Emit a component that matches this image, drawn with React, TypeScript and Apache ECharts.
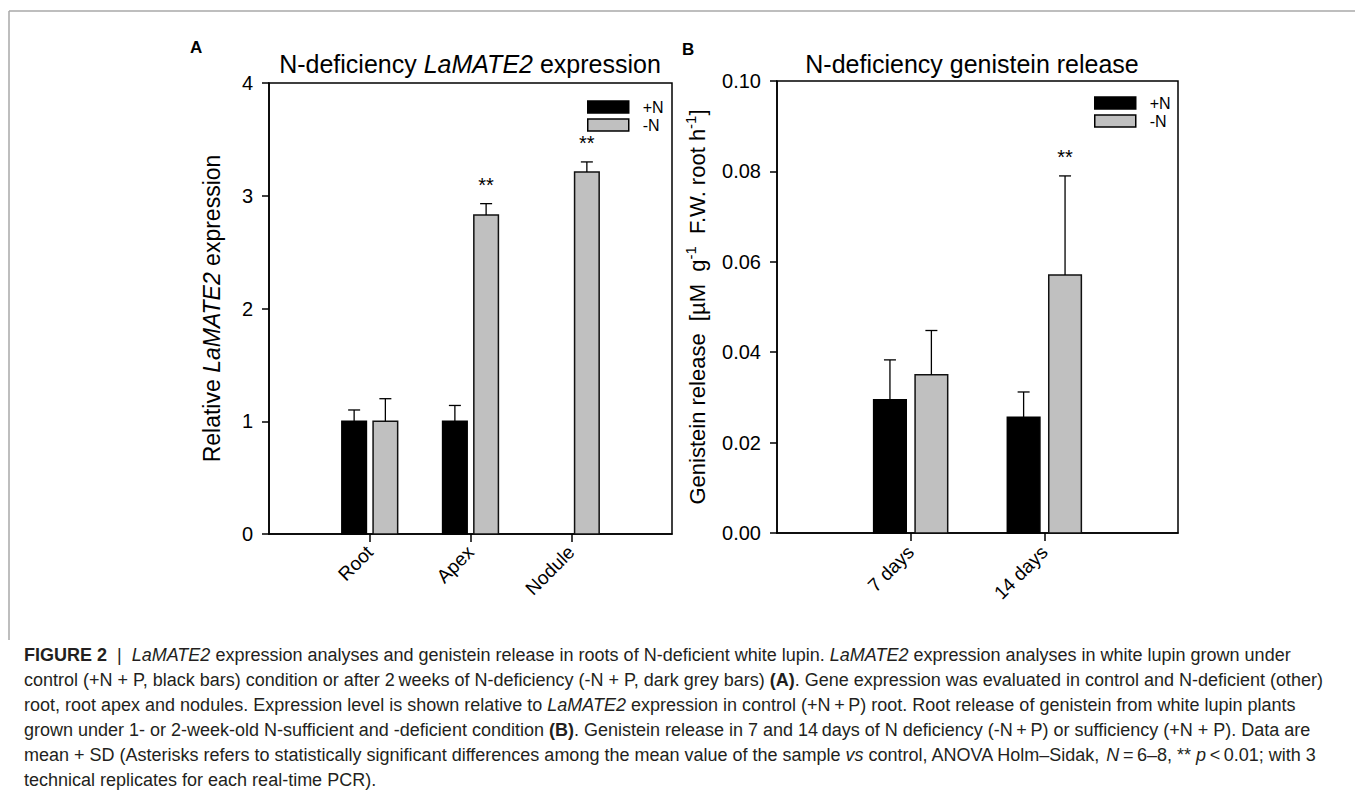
import React, { useEffect, useRef } from "react";
import * as echarts from "echarts";

// ---------- data ----------
const catsA = ["Root", "Apex", "Nodule"];
const plusNA = [1.0, 1.0, null];
const plusNASd = [0.1, 0.14, null];
const minusNA = [1.0, 2.83, 3.21];
const minusNASd = [0.2, 0.1, 0.09];
const sigMinusA = ["", "**", "**"];

const catsB = ["7 days", "14 days"];
const plusNB = [0.0295, 0.0256];
const plusNBSd = [0.0088, 0.0056];
const minusNB = [0.035, 0.0571];
const minusNBSd = [0.0098, 0.0219];
const sigMinusB = ["", "**"];

const yTicksA = [0, 1, 2, 3, 4];
const yTicksB = [0, 0.02, 0.04, 0.06, 0.08, 0.1];

const FONT = "'Liberation Sans', Arial, Helvetica, sans-serif";

const captionLines: string[] = [
  "{b|FIGURE 2}  |  {i|LaMATE2} expression analyses and genistein release in roots of N-deficient white lupin. {i|LaMATE2} expression analyses in white lupin grown under",
  "control (+N + P, black bars) condition or after 2\u2009weeks of N-deficiency (-N + P, dark grey bars) {b|(A)}. Gene expression was evaluated in control and N-deficient (other)",
  "root, root apex and nodules. Expression level is shown relative to {i|LaMATE2} expression in control (+N\u2009+\u2009P) root. Root release of genistein from white lupin plants",
  "grown under 1- or 2-week-old N-sufficient and -deficient condition {b|(B)}. Genistein release in 7 and 14\u2009days of N deficiency (-N\u2009+\u2009P) or sufficiency (+N + P). Data are",
  "mean + SD (Asterisks refers to statistically significant differences among the mean value of the sample {i|vs} control, ANOVA Holm\u2013Sidak, {i|N}\u2009=\u20096\u20138, ** {i|p}\u2009<\u20090.01; with 3",
  "technical replicates for each real-time PCR).",
];

const HALF_OFF = 0.155;
const HALF_W = 0.122;

function makeRender(offset: number, fill: string, stroke: string, sds: (number | null)[], sigs: string[]) {
  return (params: any, api: any) => {
    const idx = api.value(3);
    const cx = api.value(0) + offset;
    const v = api.value(1);
    const sd = sds[idx] as number;
    const p0 = api.coord([cx - HALF_W, v]);
    const p1 = api.coord([cx + HALF_W, 0]);
    const top = api.coord([cx, v + sd]);
    const children: any[] = [
      {
        type: "rect",
        shape: { x: p0[0], y: p0[1], width: p1[0] - p0[0], height: p1[1] - p0[1] },
        style: { fill, stroke, lineWidth: 1.5 },
      },
      {
        type: "line",
        shape: { x1: top[0], y1: p0[1], x2: top[0], y2: top[1] },
        style: { stroke: "#000", lineWidth: 1.3 },
      },
      {
        type: "line",
        shape: { x1: top[0] - 6, y1: top[1], x2: top[0] + 6, y2: top[1] },
        style: { stroke: "#000", lineWidth: 1.3 },
      },
    ];
    const s = sigs[idx];
    if (s) {
      children.push({
        type: "text",
        x: top[0],
        y: top[1] - 19,
        style: { text: s, fill: "#000", font: `20px ${FONT}`, align: "center", verticalAlign: "middle" },
      });
    }
    return { type: "group", children };
  };
}

function toData(vals: (number | null)[]) {
  const out: number[][] = [];
  vals.forEach((v, i) => {
    if (v !== null) out.push([i + 1, v, 0, i]);
  });
  return out;
}

export default function App() {
  const ref = useRef<HTMLDivElement>(null);
  useEffect(() => {
    if (!ref.current) return;
    const chart = echarts.init(ref.current, undefined, { renderer: "svg" });
    const axisLine = { show: true, lineStyle: { color: "#000", width: 1.5 } };
    const tickStyle = { color: "#000", width: 1.5 };
    const gridA = { left: 269, top: 83, width: 403, height: 451 };
    const gridB = { left: 777, top: 81, width: 401, height: 452 };
    const legendData = [
      { name: "+N", itemStyle: { color: "#000", borderColor: "#000", borderWidth: 1.5 } },
      { name: "-N", itemStyle: { color: "#c0c0c0", borderColor: "#000", borderWidth: 1.5 } },
    ];

    const option: any = {
      animation: false,
      backgroundColor: "#fff",
      textStyle: { fontFamily: FONT },
      grid: [
        { ...gridA, show: true, borderColor: "#000", borderWidth: 1.5, containLabel: false },
        { ...gridB, show: true, borderColor: "#000", borderWidth: 1.5, containLabel: false },
      ],
      xAxis: [
        {
          gridIndex: 0, type: "value", min: 0, max: 4, interval: 1,
          axisLine,
          axisTick: { show: true, customValues: [1, 2, 3], length: 8, lineStyle: tickStyle },
          axisLabel: {
            customValues: [1, 2, 3], formatter: (v: number) => catsA[v - 1] ?? "",
            rotate: 45, fontSize: 19, margin: 15, color: "#000", fontFamily: FONT,
          },
          splitLine: { show: false },
        },
        {
          gridIndex: 1, type: "value", min: 0, max: 3, interval: 1,
          axisLine,
          axisTick: { show: true, customValues: [1, 2], length: 8, lineStyle: tickStyle },
          axisLabel: {
            customValues: [1, 2], formatter: (v: number) => catsB[v - 1] ?? "",
            rotate: 45, fontSize: 19, margin: 16, color: "#000", fontFamily: FONT,
          },
          splitLine: { show: false },
        },
      ],
      yAxis: [
        {
          gridIndex: 0, type: "value", min: yTicksA[0], max: yTicksA[yTicksA.length - 1], interval: 1,
          axisLine,
          axisTick: { show: true, length: 7, lineStyle: tickStyle },
          axisLabel: { fontSize: 20, margin: 16, color: "#000", fontFamily: FONT },
          splitLine: { show: false },
          name: "Relative {i|LaMATE2} expression",
          nameLocation: "middle",
          nameGap: 46,
          nameTextStyle: {
            fontSize: 23, color: "#000", fontFamily: FONT,
            rich: { i: { fontSize: 23, fontStyle: "italic", color: "#000", fontFamily: FONT } },
          },
        },
        {
          gridIndex: 1, type: "value", min: yTicksB[0], max: yTicksB[yTicksB.length - 1], interval: 0.02,
          axisLine,
          axisTick: { show: true, length: 7, lineStyle: tickStyle },
          axisLabel: { fontSize: 20, margin: 16, color: "#000", fontFamily: FONT, formatter: (v: number) => v.toFixed(2) },
          splitLine: { show: false },
          name: "Genistein release  [\u00b5M  g{s|-1}  F.W. root h{s|-1}]",
          nameLocation: "middle",
          nameGap: 66,
          nameTextStyle: {
            fontSize: 22, color: "#000", fontFamily: FONT, lineHeight: 28,
            rich: { s: { fontSize: 15, color: "#000", fontFamily: FONT, verticalAlign: "top", lineHeight: 15 } },
          },
        },
      ],
      legend: [
        {
          orient: "vertical", left: 587, top: 99, padding: 0, itemWidth: 41, itemHeight: 12, itemGap: 2,
          icon: "rect", selectedMode: false,
          textStyle: { fontSize: 16, color: "#000", fontFamily: FONT, padding: [0, 0, 0, 9] },
          data: legendData,
        },
        {
          orient: "vertical", left: 1094, top: 95, padding: 0, itemWidth: 41, itemHeight: 12, itemGap: 2,
          icon: "rect", selectedMode: false,
          textStyle: { fontSize: 16, color: "#000", fontFamily: FONT, padding: [0, 0, 0, 9] },
          data: legendData,
        },
      ],
      series: [
        {
          type: "custom", name: "+N", xAxisIndex: 0, yAxisIndex: 0,
          itemStyle: { color: "#000" },
          renderItem: makeRender(-HALF_OFF, "#000", "#000", plusNASd, ["", "", ""]),
          data: toData(plusNA), encode: { x: 0, y: 1 },
        },
        {
          type: "custom", name: "-N", xAxisIndex: 0, yAxisIndex: 0,
          itemStyle: { color: "#c0c0c0" },
          renderItem: makeRender(HALF_OFF, "#c0c0c0", "#111", minusNASd, sigMinusA),
          data: toData(minusNA), encode: { x: 0, y: 1 },
        },
        {
          type: "custom", name: "+N", xAxisIndex: 1, yAxisIndex: 1,
          itemStyle: { color: "#000" },
          renderItem: makeRender(-HALF_OFF, "#000", "#000", plusNBSd, ["", ""]),
          data: toData(plusNB), encode: { x: 0, y: 1 },
        },
        {
          type: "custom", name: "-N", xAxisIndex: 1, yAxisIndex: 1,
          itemStyle: { color: "#c0c0c0" },
          renderItem: makeRender(HALF_OFF, "#c0c0c0", "#111", minusNBSd, sigMinusB),
          data: toData(minusNB), encode: { x: 0, y: 1 },
        },
      ],
      graphic: [
        { type: "line", shape: { x1: 9, y1: 11, x2: 1355, y2: 11 }, style: { stroke: "#a8a8a8", lineWidth: 1.5 } },
        { type: "line", shape: { x1: 9, y1: 11, x2: 9, y2: 640 }, style: { stroke: "#a8a8a8", lineWidth: 1.5 } },
        {
          type: "text", x: 190, y: 47,
          style: { text: "A", font: `bold 17px ${FONT}`, fill: "#000", verticalAlign: "middle" },
        },
        {
          type: "text", x: 682, y: 49,
          style: { text: "B", font: `bold 17px ${FONT}`, fill: "#000", verticalAlign: "middle" },
        },
        {
          type: "text", x: 470, y: 64,
          style: {
            text: "N-deficiency {i|LaMATE2} expression",
            font: `25px ${FONT}`, fill: "#000", align: "center", verticalAlign: "middle",
            rich: { i: { fontStyle: "italic", fontSize: 25, fontFamily: FONT, fill: "#000" } },
          },
        },
        {
          type: "text", x: 972, y: 64,
          style: { text: "N-deficiency genistein release", font: `25px ${FONT}`, fill: "#000", align: "center", verticalAlign: "middle" },
        },
        ...captionLines.map((t, i) => ({
          type: "text", x: 24, y: 655 + i * 25,
          style: {
            text: t, font: `18px ${FONT}`, fill: "#231f20", verticalAlign: "middle",
            rich: {
              b: { fontWeight: "bold", fontSize: 18, fontFamily: FONT, fill: "#231f20" },
              i: { fontStyle: "italic", fontSize: 18, fontFamily: FONT, fill: "#231f20" },
            },
          },
        })),
      ],
    };
    chart.setOption(option);
    return () => chart.dispose();
  }, []);
  return (
    <div
      ref={ref}
      style={{ position: "fixed", left: 0, top: 0, width: 1355, height: 793, background: "#fff" }}
    />
  );
}
